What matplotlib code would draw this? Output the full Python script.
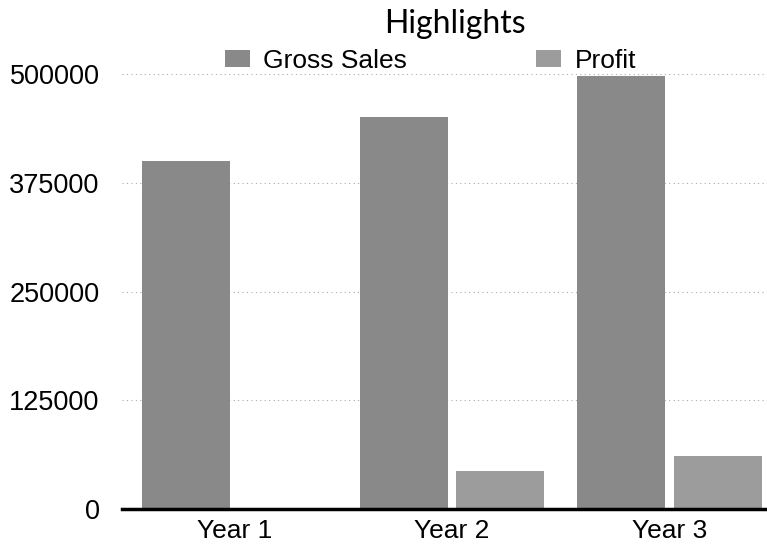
import numpy as np
import matplotlib
matplotlib.use('Agg')
import matplotlib.pyplot as plt

# data
years = ['Year 1', 'Year 2', 'Year 3']
gross_sales = [400000, 450000, 498000]
profit = [0, 44000, 61000]
yticks = [0, 125000, 250000, 375000, 500000]

plt.rcParams['font.family'] = ['Liberation Sans', 'DejaVu Sans']

fig = plt.figure(figsize=(7.67, 5.48), dpi=100)
ax = fig.add_axes([0.159, 0.071, 0.841, 0.794])

x = np.arange(len(years))
w = 0.405
off = 0.222
ax.bar(x - off, gross_sales, w, color='#898989', label='Gross Sales', zorder=2)
ax.bar(x + off, profit, w, color='#9c9c9c', label='Profit', zorder=2)

ax.set_xlim(-0.517, 2.448)
ax.set_ylim(0, 500000)
ax.set_yticks(yticks)
ax.set_yticklabels([str(v) for v in yticks], fontsize=19.5)
ax.set_xticks(x)
ax.set_xticklabels(years, fontsize=19)
ax.tick_params(axis='both', length=0)
ax.tick_params(axis='y', pad=16)
ax.tick_params(axis='x', pad=7)

# dotted grid
ax.yaxis.grid(True, linestyle=(0, (1, 3)), color='#aaaaaa', linewidth=0.8, zorder=0)
ax.set_axisbelow(True)

for s in ['top', 'right', 'left']:
    ax.spines[s].set_visible(False)
ax.spines['bottom'].set_linewidth(2.5)
ax.spines['bottom'].set_zorder(3)

fig.text(0.593, 0.940, 'Highlights', ha='center', va='baseline',
         fontsize=23, family=['Lato', 'DejaVu Sans'])

ax.legend(ncol=2, frameon=False, loc='center left',
          bbox_to_anchor=(0.293, 0.889), bbox_transform=fig.transFigure,
          fontsize=19, handlelength=0.95, handleheight=0.65,
          handletextpad=0.5, columnspacing=4.9, borderpad=0, borderaxespad=0)

fig.savefig('out.png', dpi=100)
